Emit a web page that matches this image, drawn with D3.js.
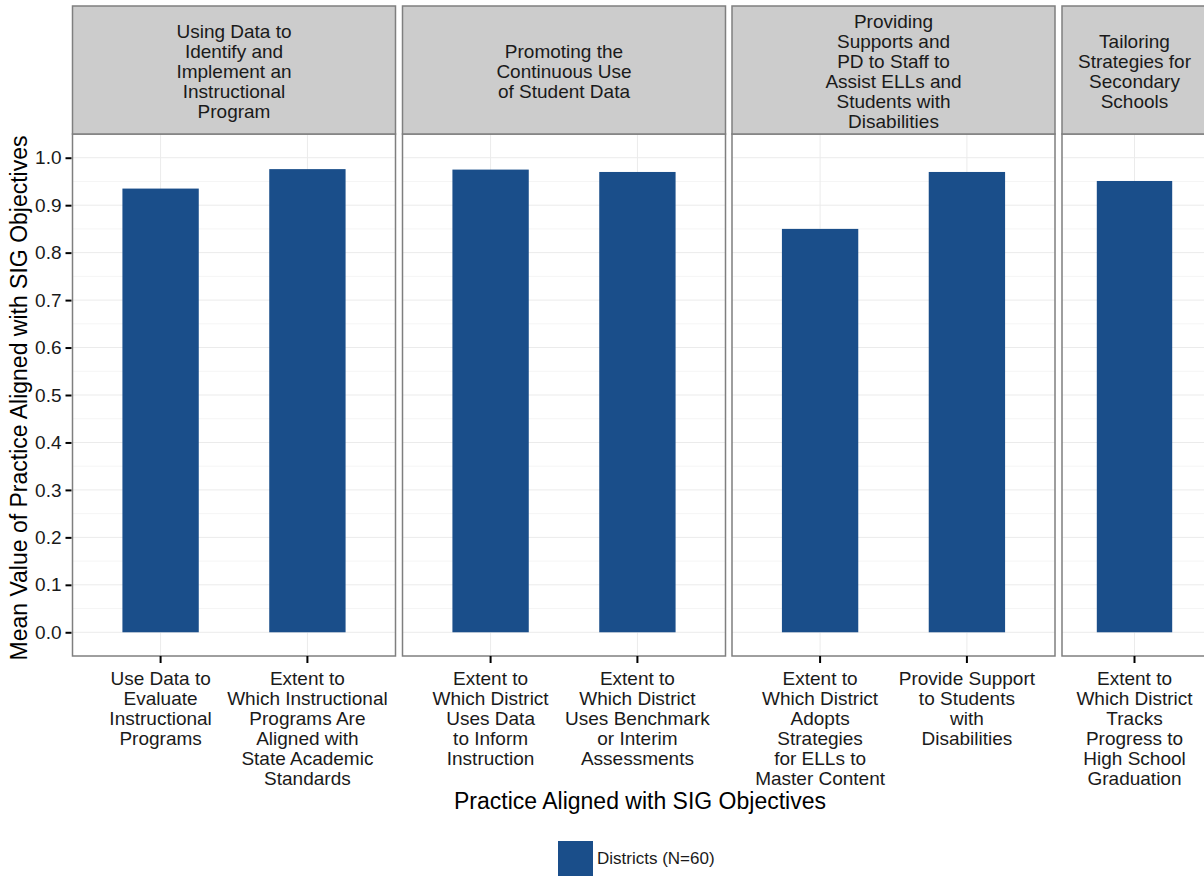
<!DOCTYPE html>
<html>
<head>
<meta charset="utf-8">
<script src="https://cdn.jsdelivr.net/npm/d3@7"></script>
<style>
  html, body { margin: 0; padding: 0; background: #fff; }
  svg { display: block; font-family: "Liberation Sans", Arial, sans-serif; }
</style>
</head>
<body>
<svg id="chart" width="1204" height="876"></svg>
<script>
// ---- data ----
const facetLabels = [
  ["Using Data to", "Identify and", "Implement an", "Instructional", "Program"],
  ["Promoting the", "Continuous Use", "of Student Data"],
  ["Providing", "Supports and", "PD to Staff to", "Assist ELLs and", "Students with", "Disabilities"],
  ["Tailoring", "Strategies for", "Secondary", "Schools"]
];
const categories = [
  ["Use Data to", "Evaluate", "Instructional", "Programs"],
  ["Extent to", "Which Instructional", "Programs Are", "Aligned with", "State Academic", "Standards"],
  ["Extent to", "Which District", "Uses Data", "to Inform", "Instruction"],
  ["Extent to", "Which District", "Uses Benchmark", "or Interim", "Assessments"],
  ["Extent to", "Which District", "Adopts", "Strategies", "for ELLs to", "Master Content"],
  ["Provide Support", "to Students", "with", "Disabilities"],
  ["Extent to", "Which District", "Tracks", "Progress to", "High School", "Graduation"]
];
const categoryFacet = [0, 0, 1, 1, 2, 2, 3];
const values = [0.935, 0.976, 0.975, 0.970, 0.850, 0.970, 0.951];
const yTicks = [0.0, 0.1, 0.2, 0.3, 0.4, 0.5, 0.6, 0.7, 0.8, 0.9, 1.0];
const yMinor = [0.05, 0.15, 0.25, 0.35, 0.45, 0.55, 0.65, 0.75, 0.85, 0.95];
const seriesName = "Districts (N=60)";
const xTitle = "Practice Aligned with SIG Objectives";
const yTitle = "Mean Value of Practice Aligned with SIG Objectives";

// ---- layout ----
const barColor = "#1a4e8a";
const textColor = "#1a1a1a";
const panels = [
  { left: 72.5, right: 395.5, outer: 0.34 },
  { left: 402.5, right: 725.5, outer: 0.34 },
  { left: 732, right: 1055, outer: 0.34 },
  { left: 1062, right: 1207, outer: 0.24 }
];
const stripTop = 6, panelTop = 134, panelBottom = 656;
const labelSize = 19;

const svg = d3.select("#chart");
const y = d3.scaleLinear().domain([-0.05, 1.05]).range([panelBottom, panelTop]);

const rows = categories.map((c, i) => ({ idx: i, lines: c, facet: categoryFacet[i], value: values[i] }));

panels.forEach((p, fi) => {
  const data = rows.filter(r => r.facet === fi);
  const x = d3.scaleBand()
    .domain(data.map(d => d.idx))
    .range([p.left, p.right])
    .paddingInner(0.48)
    .paddingOuter(p.outer);

  const g = svg.append("g");
  g.append("rect").attr("x", p.left).attr("y", panelTop)
    .attr("width", p.right - p.left).attr("height", panelBottom - panelTop)
    .attr("fill", "#fff");
  g.selectAll(".ymin").data(yMinor).join("line")
    .attr("x1", p.left).attr("x2", p.right)
    .attr("y1", d => y(d)).attr("y2", d => y(d))
    .attr("stroke", "#f5f5f5").attr("stroke-width", 1);
  g.selectAll(".ymaj").data(yTicks).join("line")
    .attr("x1", p.left).attr("x2", p.right)
    .attr("y1", d => y(d)).attr("y2", d => y(d))
    .attr("stroke", "#ebebeb").attr("stroke-width", 1);
  g.selectAll(".xmaj").data(data).join("line")
    .attr("x1", d => x(d.idx) + x.bandwidth() / 2).attr("x2", d => x(d.idx) + x.bandwidth() / 2)
    .attr("y1", panelTop).attr("y2", panelBottom)
    .attr("stroke", "#ebebeb").attr("stroke-width", 1);
  g.selectAll(".bar").data(data).join("rect")
    .attr("x", d => x(d.idx)).attr("width", x.bandwidth())
    .attr("y", d => y(d.value)).attr("height", d => y(0) - y(d.value))
    .attr("fill", barColor);
  g.append("rect").attr("x", p.left).attr("y", panelTop)
    .attr("width", p.right - p.left).attr("height", panelBottom - panelTop)
    .attr("fill", "none").attr("stroke", "#7f7f7f").attr("stroke-width", 1.5);
  g.append("rect").attr("x", p.left).attr("y", stripTop)
    .attr("width", p.right - p.left).attr("height", panelTop - stripTop)
    .attr("fill", "#cccccc").attr("stroke", "#7f7f7f").attr("stroke-width", 1.5);
  const lines = facetLabels[fi];
  const cy = 71.5;
  const lh = 20;
  const st = g.append("text").attr("text-anchor", "middle")
    .attr("font-size", labelSize).attr("fill", textColor);
  lines.forEach((l, li) => {
    st.append("tspan").attr("x", (p.left + p.right) / 2)
      .attr("y", cy + (li - (lines.length - 1) / 2) * lh)
      .attr("dy", "0.35em").text(l);
  });

  const xa = svg.append("g").attr("transform", `translate(0,${panelBottom})`)
    .call(d3.axisBottom(x).tickSize(7).tickPadding(4).tickFormat(""));
  xa.select(".domain").remove();
  xa.selectAll(".tick line").attr("stroke", "#000").attr("stroke-width", 2);
  xa.selectAll(".tick text").each(function(d) {
    const t = d3.select(this);
    t.text(null).attr("font-size", labelSize).attr("fill", textColor)
      .attr("font-family", "Liberation Sans, Arial, sans-serif").attr("y", 0).attr("dy", null);
    rows[d].lines.forEach((l, li) => {
      t.append("tspan").attr("x", 0).attr("y", 22 + li * 20).attr("dy", "0.35em").text(l);
    });
  });
});

const ya = svg.append("g").attr("transform", `translate(71.5,0)`)
  .call(d3.axisLeft(y).tickValues(yTicks).tickSize(6).tickPadding(4).tickFormat(d3.format(".1f")));
ya.select(".domain").remove();
ya.selectAll(".tick line").attr("stroke", "#000").attr("stroke-width", 2);
ya.selectAll(".tick text").attr("font-size", labelSize).attr("fill", textColor)
  .attr("font-family", "Liberation Sans, Arial, sans-serif");

svg.append("text").attr("x", 640).attr("y", 809).attr("text-anchor", "middle")
  .attr("font-size", 23).attr("fill", "#000").text(xTitle);
svg.append("text").attr("transform", `translate(27,${(panelTop + panelBottom) / 2 + 3}) rotate(-90)`)
  .attr("text-anchor", "middle").attr("font-size", 23).attr("fill", "#000").text(yTitle);

const lg = svg.append("g");
lg.append("rect").attr("x", 558).attr("y", 841).attr("width", 35).attr("height", 35).attr("fill", barColor);
lg.append("text").attr("x", 597).attr("y", 858.5).attr("dy", "0.35em")
  .attr("font-size", 17).attr("fill", textColor).text(seriesName);
</script>
</body>
</html>
